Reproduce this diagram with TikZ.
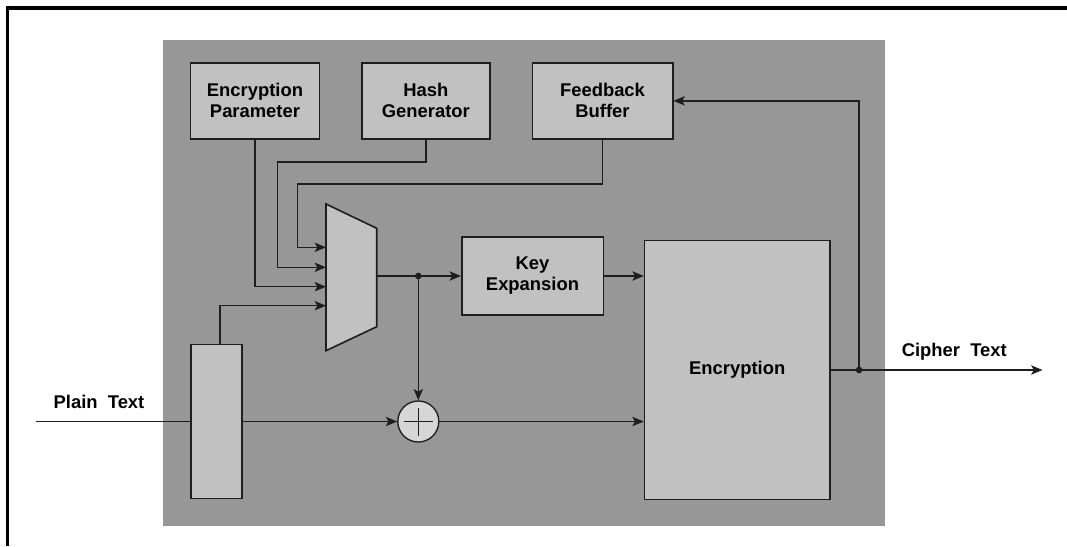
\documentclass[tikz,border=0pt]{standalone}
\usepackage{fontspec}
\setmainfont{Liberation Sans}
\usetikzlibrary{positioning, arrows.meta, calc}
\definecolor{panelgray}{RGB}{151, 151, 151}
\definecolor{boxgray}{RGB}{193, 193, 193}
\definecolor{xorgray}{RGB}{214, 214, 214}
\definecolor{linedark}{RGB}{30, 30, 30}
\tikzset{
    % Node Styles
    block/.style={
        rectangle, draw=linedark, line width=1.2pt, fill=boxgray,
        align=center, inner sep=2pt,
        font=\fontsize{13.8}{15.75}\selectfont\bfseries
    },
    xorgate/.style={
        circle, draw=linedark, line width=1pt, fill=xorgray,
        minimum size=30.75pt, inner sep=0pt,
        path picture={
            \draw[linedark, line width=0.9pt]
                ([xshift=-11pt]path picture bounding box.center) -- ([xshift=11pt]path picture bounding box.center)
                ([yshift=-10.5pt]path picture bounding box.center) -- ([yshift=10.5pt]path picture bounding box.center);
        }
    },
    sig_text/.style={font=\fontsize{13.8}{15.75}\selectfont\bfseries, inner sep=0pt},
    junction/.style={circle, fill=linedark, inner sep=0pt, minimum size=5pt},
    % Arrow Styles
    main_arrow/.style={-{Stealth[length=8.5pt, width=7pt, inset=2pt]}, line width=1.1pt, color=linedark},
    main_line/.style={line width=1.1pt, color=linedark}
}

\begin{document}
\begin{tikzpicture}[x=0.75pt, y=-0.75pt]

    \useasboundingbox (0,0) rectangle (1067,546);

    % --- 1. Frame and Panel ---
    \draw [line width=2.3pt, black] (1067,8) -| (7.5,546);
    \fill [panelgray] (163,40) rectangle (885,526);

    % --- 2. Top Row Sources ---
    \node [block, minimum width=96.5pt, minimum height=57.2pt] (encparam) at (255,100.85) {Encryption \\ Parameter};
    \node [block, minimum width=96.2pt, minimum height=57.2pt] (hashgen) at (425.85,100.85) {Hash \\ Generator};
    \node [block, minimum width=105.3pt, minimum height=57.2pt] (fbuf) at (602.5,100.85) {Feedback \\ Buffer};

    % --- 3. Selector (Mux) ---
    \draw [fill=boxgray, draw=linedark, line width=1.2pt]
        (326,204) -- (376.7,228.3) -- (376.7,326.7) -- (326,350.7) -- cycle;
    \coordinate (mux_in1) at (326,247.3);
    \coordinate (mux_in2) at (326,267.3);
    \coordinate (mux_in3) at (326,286.7);
    \coordinate (mux_in4) at (326,305.7);
    \coordinate (mux_out) at (376.7,276);

    % --- 4. Core Blocks ---
    \node [block, minimum width=106.2pt, minimum height=58.3pt] (keyexp) at (532.5,276) {Key \\ Expansion};
    \node [block, minimum width=139.1pt, minimum height=194pt] (enc) at (737.25,370) {Encryption};
    \node [block, minimum width=38.25pt, minimum height=115.3pt] (store) at (216.2,421.5) {};
    \node [xorgate] (xor) at (418.3,421.5) {};

    % --- 5. Signal Labels ---
    \node [sig_text, anchor=base] (ptext) at (99,408.3) {Plain\ \ Text};
    \node [sig_text, anchor=base] (ctext) at (954.3,356) {Cipher\ \ Text};

    % Input path
    \coordinate (pin) at (35.7,421.5);
    \draw [main_line] (pin) -- (store.west);
    \draw [main_arrow] (store.east) -- (xor.west);

    % Mux inputs
    \draw [main_arrow] (fbuf.south) -- ++(0,44) -| ($(mux_in1)+(-28.3,0)$) -- (mux_in1);
    \draw [main_arrow] (hashgen.south) -- ++(0,22) -| ($(mux_in2)+(-48.3,0)$) -- (mux_in2);
    \draw [main_arrow] (encparam.south) |- (mux_in3);
    \draw [main_arrow] ([xshift=3pt]store.north) |- (mux_in4);

    % Mux output split
    \coordinate (split) at (418.3,276);
    \draw [main_line] (mux_out) -- (split);
    \draw [main_arrow] (split) -- (keyexp.west);
    \draw [main_arrow] (split) -- (xor.north);
    \node [junction] at (split) {};

    % Into encryption
    \draw [main_arrow] (keyexp.east) -- (keyexp.east -| enc.west);
    \draw [main_arrow] (xor.east) -- (xor.east -| enc.west);

    % Output and feedback
    \coordinate (tap) at ($(enc.east)+(28.3,0)$);
    \coordinate (cout) at ($(enc.east)+(211.7,0)$);
    \draw [main_arrow] (enc.east) -- (cout);
    \draw [main_arrow] (tap) |- (fbuf.east);
    \node [junction] at (tap) {};

\end{tikzpicture}
\end{document}
